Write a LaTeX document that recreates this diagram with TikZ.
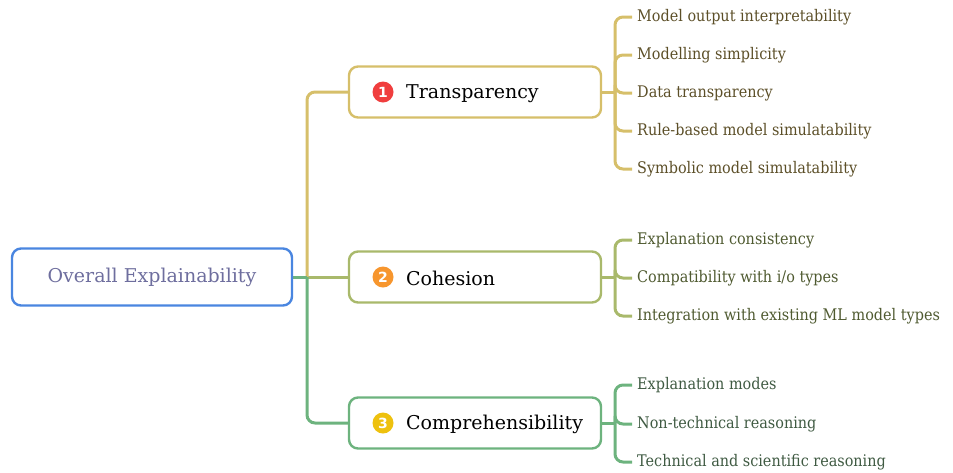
\documentclass[tikz,border=0pt]{standalone}
\usepackage{fontspec}
\setmainfont{DejaVu Serif}
\newfontfamily\leaffont[FakeStretch=0.9]{DejaVu Serif}
\newfontfamily\badgefont{DejaVu Sans}
\usetikzlibrary{backgrounds}
\definecolor{rootblue}{HTML}{4A86E0}
\definecolor{roottext}{HTML}{6E6E9E}
\definecolor{goldline}{HTML}{D6BF6A}
\definecolor{oliveline}{HTML}{A9B96B}
\definecolor{greenline}{HTML}{6DB37E}
\definecolor{goldtext}{HTML}{5C4F28}
\definecolor{olivetext}{HTML}{4F5A30}
\definecolor{greentext}{HTML}{3F5A42}
\definecolor{badgered}{HTML}{F03E3E}
\definecolor{badgeorange}{HTML}{F7962E}
\definecolor{badgeyellow}{HTML}{EEC10E}
\tikzset{
  rootbox/.style={draw=rootblue, line width=2.4pt, rounded corners=9pt, fill=white,
    minimum width=280pt, minimum height=57pt, text=roottext, font=\fontsize{19}{22}\selectfont},
  topicbox/.style={draw=#1, line width=2.4pt, rounded corners=9pt, fill=white,
    minimum width=252pt, minimum height=51pt},
  topiclabel/.style={anchor=west, inner sep=0pt, text=black, font=\fontsize{19}{22}\selectfont},
  badge/.style={circle, fill=#1, inner sep=0pt, minimum size=21pt, text=white,
    font=\badgefont\bfseries\fontsize{14}{14}\selectfont},
  leaf/.style={anchor=west, inner xsep=5pt, inner ysep=2pt, text=#1, font=\leaffont\fontsize{16}{19}\selectfont},
  branch/.style={draw=#1, line width=3pt, rounded corners=8pt},
}
\begin{document}
\begin{tikzpicture}[x=1pt, y=-1pt]
\useasboundingbox (0,0) rectangle (953,472);

% root and topic boxes
\node[rootbox] (R) at (152,277) {Overall Explainability};
\node[topicbox=goldline]  (T) at (475,92)  {};
\node[topicbox=oliveline] (C) at (475,277) {};
\node[topicbox=greenline] (K) at (475,423) {};

% numbered badges and topic titles
\node[badge=badgered]    (Tb) at (383,92)  {1};
\node[badge=badgeorange] (Cb) at (383,277) {2};
\node[badge=badgeyellow] (Kb) at (383,423) {3};
\node[topiclabel] (Tl) at (406,93.5)  {Transparency};
\node[topiclabel] (Cl) at (406,278.5) {Cohesion};
\node[topiclabel] (Kl) at (406,424.5) {Comprehensibility};

% leaves
\node[leaf=goldtext] (t1) at (632,17)  {Model output interpretability};
\node[leaf=goldtext] (t2) at (632,55)  {Modelling simplicity};
\node[leaf=goldtext] (t3) at (632,93)  {Data transparency};
\node[leaf=goldtext] (t4) at (632,131) {Rule-based model simulatability};
\node[leaf=goldtext] (t5) at (632,169) {Symbolic model simulatability};

\node[leaf=olivetext] (c1) at (632,240) {Explanation consistency};
\node[leaf=olivetext] (c2) at (632,278) {Compatibility with i/o types};
\node[leaf=olivetext] (c3) at (632,316) {Integration with existing ML model types};

\node[leaf=greentext] (k1) at (632,385) {Explanation modes};
\node[leaf=greentext] (k2) at (632,424) {Non-technical reasoning};
\node[leaf=greentext] (k3) at (632,462) {Technical and scientific reasoning};

% junction points
\coordinate (rj) at (307,277);
\coordinate (tj) at (615,92);
\coordinate (cj) at (615,277);
\coordinate (kj) at (615,423);

\begin{scope}[on background layer]
% trunk from the root
\draw[branch=oliveline] (R.east) -- (C.west);
\draw[branch=goldline]  (rj) |- (T.west);
\draw[branch=greenline] (rj) |- (K.west);
\draw[branch=greenline, rounded corners=0pt] (R.east) -- (rj);

% brackets to the leaves
\draw[branch=goldline] (T.east) -- (tj);
\foreach \n in {t1,t2,t3,t4,t5} \draw[branch=goldline] (tj) |- (\n.west);
\draw[branch=oliveline] (C.east) -- (cj);
\foreach \n in {c1,c2,c3} \draw[branch=oliveline] (cj) |- (\n.west);
\draw[branch=greenline] (K.east) -- (kj);
\foreach \n in {k1,k2,k3} \draw[branch=greenline] (kj) |- (\n.west);
\end{scope}
\end{tikzpicture}
\end{document}
